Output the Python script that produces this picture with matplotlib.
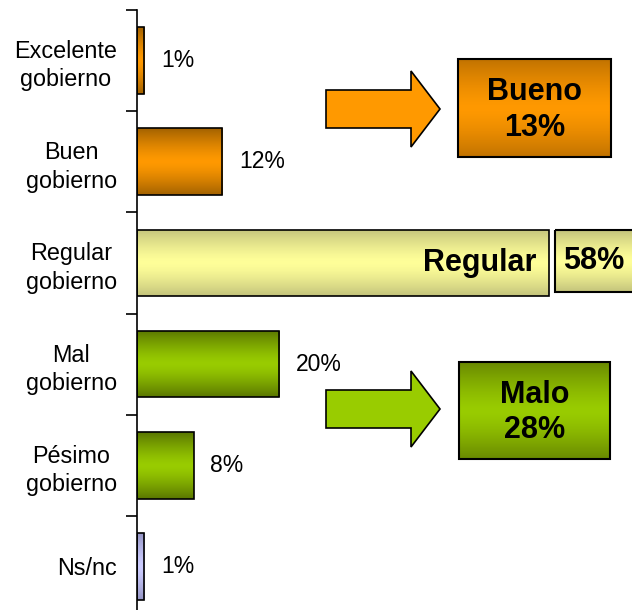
import numpy as np
import matplotlib
matplotlib.use("Agg")
import matplotlib.pyplot as plt
from matplotlib.patches import Polygon, Rectangle

plt.rcParams['font.family'] = ['Liberation Sans', 'DejaVu Sans']

categories = ["Excelente\ngobierno", "Buen\ngobierno", "Regular\ngobierno",
              "Mal\ngobierno", "Pésimo\ngobierno", "Ns/nc"]
values = [1, 12, 58, 20, 8, 1]
groups = ["bueno", "bueno", "regular", "malo", "malo", "nsnc"]

# (dark edge, bright middle) for the vertical gradients
bar_colors = {
    "bueno": ("#a36200", "#ff9900"),
    "regular": ("#c4c47c", "#ffff99"),
    "malo": ("#5a7700", "#99cc00"),
    "nsnc": ("#9494c4", "#ccccff"),
}
box_colors = {
    "bueno": ("#c27300", "#ff9900"),
    "malo": ("#6a8a00", "#99cc00"),
}


def gradient(dark, bright, n=64):
    d = np.array(matplotlib.colors.to_rgb(dark))
    b = np.array(matplotlib.colors.to_rgb(bright))
    t = np.abs(np.linspace(-1, 1, n)) ** 1.4
    return (b + (d - b) * t[:, None])[:, None, :]


fig = plt.figure(figsize=(6.32, 6.10), dpi=100)
ax = fig.add_axes([137 / 632, -7 / 610, 495 / 632, 607 / 610])

y = np.arange(len(values))
bars = ax.barh(y, values, height=0.66, facecolor="none", edgecolor="black",
               linewidth=1.2, zorder=3)
for bar, g in zip(bars, groups):
    x0, y0 = bar.get_x(), bar.get_y()
    im = ax.imshow(gradient(*bar_colors[g]), aspect="auto", zorder=2,
                   extent=(x0, x0 + bar.get_width(), y0 + bar.get_height(), y0))
    im.set_clip_path(bar)

labels = [f"{v}%" if g != "regular" else "" for v, g in zip(values, groups)]
ax.bar_label(bars, labels=labels, padding=12, fontsize=16.5)

reg = groups.index("regular")
ax.annotate("Regular", xy=(values[reg], reg), xytext=(-9, 0),
            textcoords="offset points", ha="right", va="center",
            fontsize=22, fontweight="bold", zorder=4)

ax.set_xlim(0, 69.7)
ax.set_ylim(len(values) - 0.5, -0.5)
ax.set_yticks(np.arange(len(values) + 1) - 0.5)
ax.set_yticklabels([])
ax.set_yticks(y, minor=True)
ax.set_yticklabels(categories, minor=True, fontsize=16.8, multialignment="center",
                   linespacing=1.3)
ax.tick_params(axis="y", which="major", length=8, width=1.2, direction="out")
ax.tick_params(axis="y", which="minor", length=0, pad=14.5)
ax.set_xticks([])
for s in ["top", "right", "bottom"]:
    ax.spines[s].set_visible(False)
ax.spines["left"].set_linewidth(1.2)

# overlay in pixel coordinates for the summary arrows and boxes
ov = fig.add_axes([0, 0, 1, 1], zorder=5)
ov.set_xlim(0, 632)
ov.set_ylim(610, 0)
ov.axis("off")

arrow = np.array([(326, 90), (411, 90), (411, 71), (440, 109),
                  (411, 147), (411, 128), (326, 128)], dtype=float)

bueno = sum(v for v, g in zip(values, groups) if g == "bueno")
malo = sum(v for v, g in zip(values, groups) if g == "malo")
summary = [("Bueno", bueno, "bueno", 0, (458, 59, 611, 157)),
           ("Malo", malo, "malo", 300, (459, 362, 610, 459))]
for name, total, g, dy, (bx0, by0, bx1, by1) in summary:
    ov.add_patch(Polygon(arrow + [0, dy], closed=True,
                         facecolor=bar_colors[g][1], edgecolor="black", linewidth=1.2))
    ov.imshow(gradient(*box_colors[g]), aspect="auto", extent=(bx0, bx1, by1, by0))
    ov.add_patch(Rectangle((bx0, by0), bx1 - bx0, by1 - by0, facecolor="none",
                           edgecolor="black", linewidth=1.5))
    ov.text((bx0 + bx1) / 2, (by0 + by1) / 2 + 2, f"{name}\n{total}%", ha="center",
            va="center", fontsize=22, fontweight="bold", linespacing=1.25)

# separate box with the regular percentage
rx0, ry0, rx1, ry1 = 555, 230, 645, 292
ov.imshow(gradient(*bar_colors["regular"]), aspect="auto", extent=(rx0, rx1, ry1, ry0))
ov.add_patch(Rectangle((rx0, ry0), rx1 - rx0, ry1 - ry0, facecolor="none",
                       edgecolor="black", linewidth=1.5))
ov.text(563, (ry0 + ry1) / 2, f"{values[reg]}%", ha="left", va="center",
        fontsize=22, fontweight="bold")
ov.set_xlim(0, 632)
ov.set_ylim(610, 0)

fig.savefig("out.png", dpi=100)
